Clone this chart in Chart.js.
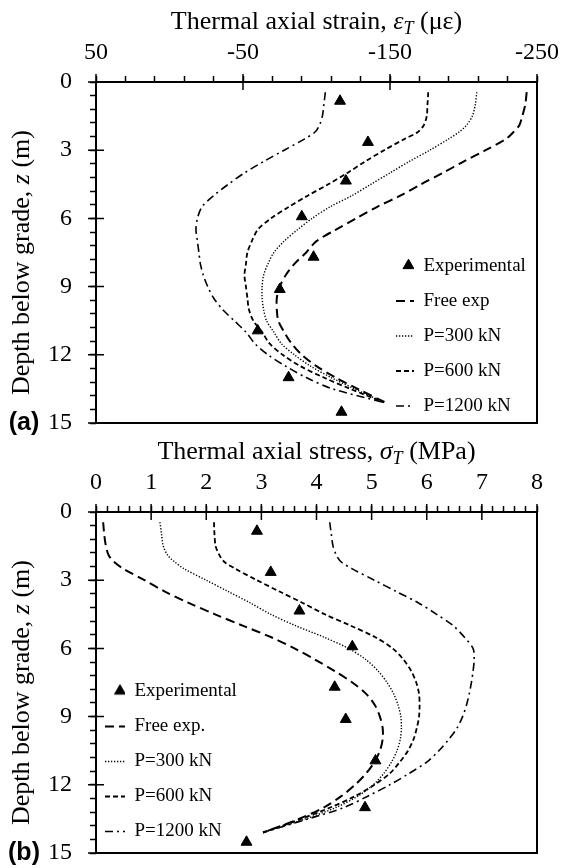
<!DOCTYPE html>
<html>
<head>
<meta charset="utf-8">
<script src="https://cdn.jsdelivr.net/npm/chart.js"></script>
<style>
  html, body { margin: 0; padding: 0; background: #fff; }
  #wrap { position: relative; width: 563px; height: 868px; }
  canvas { position: absolute; left: 0; }
  #panelA { top: 0; }
  #panelB { top: 430px; }
</style>
</head>
<body>
<div id="wrap">
  <canvas id="panelA" width="563" height="440"></canvas>
  <canvas id="panelB" width="563" height="438"></canvas>
</div>
<script>
// depths (m) of the model curves, shared by both panels
const depth = [0.45, 1.0, 1.5, 1.9, 2.2, 2.5, 3.0, 3.5, 4.0, 4.5, 5.0, 5.5, 6.0, 6.5, 7.0,
  7.5, 8.0, 8.5, 9.0, 9.5, 10.0, 10.5, 11.0, 11.5, 12.0, 12.5, 13.0, 13.5, 14.1];
// depths of the measured points
const expDepth = [0.84, 2.65, 4.35, 5.92, 7.7, 9.12, 10.94, 13.0, 14.52];

// (a) thermal axial strain (µε)
const expStrain = [-116, -135, -120, -90, -98, -75, -60, -81, -117];
const freeStrain = [-243, -242, -240, -238, -234, -229, -215, -200, -186, -171, -157, -141, -127, -113, -100,
  -93, -85, -79, -75, -73, -73, -74, -78, -83, -90, -100, -113, -128, -147];
const p300Strain = [-209, -208, -206, -202, -197, -190, -177, -163, -150, -137, -124, -109, -97, -87, -78,
  -71, -67, -64, -63, -63, -64, -66, -71, -76, -85, -96, -110, -126, -146];
const p600Strain = [-176, -175.5, -175, -173, -169, -160, -146, -133, -121, -108, -94, -81, -69, -60, -56,
  -53, -52, -51, -52, -53, -54, -57, -63, -68, -77, -89, -105, -123, -146];
const p1200Strain = [-106, -105, -104, -102, -99, -92, -78, -64, -51, -40, -30, -22, -19, -18, -19,
  -20, -21, -23, -26, -30, -36, -44, -52, -58, -67, -79, -93, -111, -146];

// (b) thermal axial stress (MPa)
const expStress = [2.92, 3.17, 3.69, 4.65, 4.33, 4.53, 5.07, 4.88, 2.73];
const freeStress = [0.13, 0.15, 0.18, 0.23, 0.33, 0.5, 0.88, 1.25, 1.68, 2.16, 2.66, 3.17, 3.6, 3.98, 4.33,
  4.65, 4.9, 5.06, 5.15, 5.2, 5.2, 5.15, 5.05, 4.9, 4.7, 4.45, 4.13, 3.68, 3.03];
const p300Stress = [1.16, 1.19, 1.22, 1.3, 1.43, 1.6, 2.0, 2.4, 2.8, 3.17, 3.62, 4.13, 4.58, 4.9, 5.12,
  5.28, 5.4, 5.48, 5.53, 5.54, 5.52, 5.46, 5.36, 5.22, 5.03, 4.75, 4.35, 3.8, 3.03];
const p600Stress = [2.14, 2.15, 2.17, 2.24, 2.33, 2.53, 2.92, 3.33, 3.75, 4.15, 4.62, 5.06, 5.38, 5.58, 5.72,
  5.81, 5.86, 5.87, 5.86, 5.82, 5.76, 5.66, 5.51, 5.33, 5.05, 4.7, 4.25, 3.72, 3.03];
const p1200Stress = [4.24, 4.27, 4.3, 4.36, 4.45, 4.65, 5.05, 5.45, 5.85, 6.18, 6.48, 6.68, 6.84, 6.86, 6.84,
  6.81, 6.77, 6.72, 6.65, 6.55, 6.4, 6.22, 6.0, 5.68, 5.33, 4.93, 4.5, 3.85, 3.03];

const namesA = ['Experimental', 'Free exp', 'P=300 kN', 'P=600 kN', 'P=1200 kN'];
const namesB = ['Experimental', 'Free exp.', 'P=300 kN', 'P=600 kN', 'P=1200 kN'];

// tick labels
const strainLabels = [50, -50, -150, -250];
const stressLabels = [0, 1, 2, 3, 4, 5, 6, 7, 8];
const depthLabels = [0, 3, 6, 9, 12, 15];

// free exp, 300, 600, 1200
const lineStyles = [
  { dash: [9, 5], w: 2 },
  { dash: [1.3, 1.7], w: 1.4 },
  { dash: [5, 3], w: 1.8 },
  { dash: [8, 4, 2, 4], w: 1.6 }
];

const SERIF = '"Liberation Serif", "Times New Roman", serif';
const hasValue = (list, v) => list.some(m => Math.abs(m - v) < 1e-6);
const pts = (xs, ys) => ys.map((y, i) => ({ x: xs[i], y }));

function triIcon(w, cx) {
  const c = document.createElement('canvas');
  c.width = w;
  c.height = 16;
  const g = c.getContext('2d');
  g.fillStyle = '#000';
  g.strokeStyle = '#000';
  g.lineWidth = 1;
  const opts = { pointStyle: 'triangle', radius: 6.3, borderWidth: 1, rotation: 0 };
  if (Chart.helpers && Chart.helpers.drawPoint) {
    Chart.helpers.drawPoint(g, opts, cx, 7.5);
  } else {
    g.beginPath();
    for (let k = 0; k < 3; k++) {
      const r = k * 2 * Math.PI / 3;
      g.lineTo(cx + Math.sin(r) * 6.3, 7.5 - Math.cos(r) * 6.3);
    }
    g.closePath();
    g.fill();
    g.stroke();
  }
  return c;
}

function drawRich(ctx, segs, cx, baseY) {
  const fonts = { n: '26px ' + SERIF, i: 'italic 26px ' + SERIF, s: 'italic 18px ' + SERIF };
  let total = 0;
  segs.forEach(s => { ctx.font = fonts[s[1]]; total += ctx.measureText(s[0]).width; });
  let x = cx - total / 2;
  segs.forEach(s => {
    ctx.font = fonts[s[1]];
    ctx.fillText(s[0], x, baseY + (s[1] === 's' ? 5 : 0));
    x += ctx.measureText(s[0]).width;
  });
}

// frame, crossing major ticks, rich axis titles, panel tag, legend spot
const panelDeco = {
  id: 'panelDeco',
  afterLayout(chart, args, o) {
    const lg = chart.legend;
    if (!lg) return;
    lg.left = o.legendLeft;
    lg.top = o.legendTop;
    lg.right = chart.width;
    lg.bottom = chart.height + 1000;
  },
  afterDraw(chart, args, o) {
    const { ctx, chartArea: a } = chart;
    const xs = chart.scales.x, ys = chart.scales.y;
    ctx.save();
    ctx.strokeStyle = '#000';
    ctx.lineWidth = 2;
    ctx.strokeRect(a.left, a.top, a.right - a.left, a.bottom - a.top);

    ctx.lineWidth = 1.5;
    ctx.beginPath();
    xs.ticks.forEach(t => {
      if (!hasValue(o.majorX, t.value)) return;
      const px = xs.getPixelForValue(t.value);
      ctx.moveTo(px, a.top - 8);
      ctx.lineTo(px, a.top + 8);
    });
    ys.ticks.forEach(t => {
      if (!hasValue(depthLabels, t.value)) return;
      const py = ys.getPixelForValue(t.value);
      ctx.moveTo(a.left - 8, py);
      ctx.lineTo(a.left + 8, py);
    });
    ctx.stroke();

    ctx.fillStyle = '#000';
    ctx.textBaseline = 'alphabetic';
    ctx.textAlign = 'left';
    drawRich(ctx, o.xTitle, (a.left + a.right) / 2, a.top - 53.5);

    ctx.save();
    ctx.translate(29, (a.top + a.bottom) / 2 + 10);
    ctx.rotate(-Math.PI / 2);
    drawRich(ctx, [['Depth below grade, ', 'n'], ['z', 'i'], [' (m)', 'n']], 0, 0);
    ctx.restore();

    ctx.font = 'bold 25px "Liberation Sans", Arial, sans-serif';
    ctx.textAlign = 'center';
    ctx.textBaseline = 'middle';
    ctx.fillText(o.tag, 24, a.bottom);
    ctx.restore();
  }
};

function makePanel(id, o) {
  const icon = triIcon(o.boxW, o.triX);
  const datasets = [{
    label: o.names[0],
    data: pts(o.exp, expDepth),
    showLine: false,
    pointStyle: 'triangle',
    pointRadius: 6.3,
    backgroundColor: '#000',
    borderColor: '#000',
    borderWidth: 1
  }].concat(o.series.map((vals, k) => ({
    label: o.names[k + 1],
    data: pts(vals, depth),
    showLine: true,
    pointRadius: 0,
    borderColor: '#000',
    backgroundColor: '#000',
    borderWidth: lineStyles[k].w,
    borderDash: lineStyles[k].dash,
    tension: 0.3,
    fill: false
  })));

  new Chart(document.getElementById(id), {
    type: 'scatter',
    data: { datasets },
    options: {
      responsive: false,
      animation: false,
      events: [],
      layout: { padding: { left: 0, top: 0, right: 26, bottom: o.padBottom } },
      scales: {
        x: {
          type: 'linear',
          position: 'top',
          min: o.xMin,
          max: o.xMax,
          reverse: o.xReverse,
          afterFit: s => { s.height = 82; s.paddingLeft = 0; s.paddingRight = 0; },
          border: { display: false },
          grid: { display: true, drawOnChartArea: false, drawTicks: true, tickLength: 6, tickWidth: 1.5, tickColor: '#000' },
          ticks: {
            stepSize: o.xStep,
            autoSkip: false,
            maxRotation: 0,
            minRotation: 0,
            padding: 9,
            color: '#000',
            font: { family: SERIF, size: 24 },
            callback: v => hasValue(o.xLabels, v) ? String(Math.round(v)) : ''
          }
        },
        y: {
          type: 'linear',
          position: 'left',
          min: 0,
          max: 15,
          reverse: true,
          afterFit: s => { s.width = 96; s.paddingTop = 0; s.paddingBottom = 0; },
          border: { display: false },
          grid: { display: true, drawOnChartArea: false, drawTicks: true, tickLength: 6, tickWidth: 1.5, tickColor: '#000' },
          ticks: {
            stepSize: 0.6,
            autoSkip: false,
            padding: 18,
            color: '#000',
            font: { family: SERIF, size: 24 },
            callback: v => hasValue(depthLabels, v) ? String(Math.round(v)) : ''
          }
        }
      },
      plugins: {
        tooltip: { enabled: false },
        legend: {
          position: 'chartArea',
          align: 'start',
          labels: {
            usePointStyle: true,
            pointStyleWidth: o.boxW,
            boxHeight: 9,
            padding: 16,
            color: '#000',
            font: { family: SERIF, size: 19 },
            generateLabels(chart) {
              const items = Chart.defaults.plugins.legend.labels.generateLabels(chart);
              items.forEach(it => {
                const ds = chart.data.datasets[it.datasetIndex];
                if (ds.showLine === false) {
                  it.pointStyle = icon;
                } else {
                  it.pointStyle = 'line';
                  it.lineDash = ds.borderDash;
                  it.lineWidth = ds.borderWidth;
                  it.strokeStyle = '#000';
                }
              });
              return items;
            }
          }
        },
        panelDeco: {
          xTitle: o.xTitle,
          tag: o.tag,
          majorX: o.xLabels,
          legendLeft: o.legendLeft,
          legendTop: o.legendTop
        }
      }
    },
    plugins: [panelDeco]
  });
}

makePanel('panelA', {
  names: namesA,
  exp: expStrain,
  series: [freeStrain, p300Strain, p600Strain, p1200Strain],
  xMin: -250, xMax: 50, xStep: 20, xReverse: true,
  xLabels: strainLabels,
  xTitle: [['Thermal axial strain, ', 'n'], ['\u03B5', 'i'], ['T', 's'], [' (\u03BC\u03B5)', 'n']],
  tag: '(a)',
  padBottom: 17,
  boxW: 18, triX: 12.5,
  legendLeft: 380, legendTop: 240.5
});

makePanel('panelB', {
  names: namesB,
  exp: expStress,
  series: [freeStress, p300Stress, p600Stress, p1200Stress],
  xMin: 0, xMax: 8, xStep: 0.2, xReverse: false,
  xLabels: stressLabels,
  xTitle: [['Thermal axial stress, ', 'n'], ['\u03C3', 'i'], ['T', 's'], [' (MPa)', 'n']],
  tag: '(b)',
  padBottom: 15,
  boxW: 20, triX: 15,
  legendLeft: 89, legendTop: 236
});
</script>
</body>
</html>
